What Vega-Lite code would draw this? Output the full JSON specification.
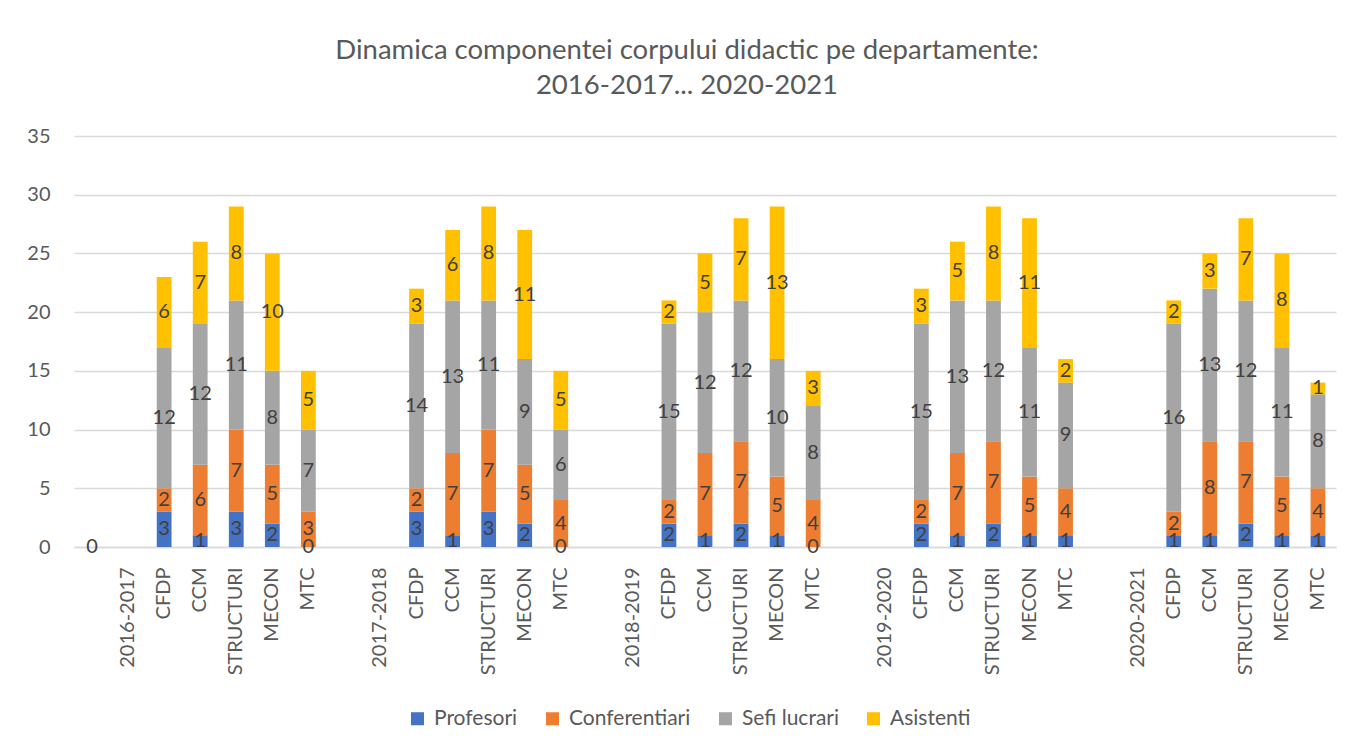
{
  "$schema": "https://vega.github.io/schema/vega-lite/v6.json",
  "autosize": {"type": "none"},
  "width": 1262,
  "height": 411,
  "padding": {"left": 74, "top": 136, "right": 22, "bottom": 195},
  "background": "white",
  "title": {
    "text": ["Dinamica componentei corpului didactic pe departamente:", "2016-2017... 2020-2021"],
    "font": "Lato",
    "fontSize": 27.5,
    "fontWeight": "normal",
    "color": "#595959",
    "anchor": "middle",
    "dx": -18,
    "offset": 27,
    "lineHeight": 35
  },
  "config": {
    "view": {"stroke": null},
    "legend": {
      "orient": "none",
      "legendX": 333,
      "legendY": 572,
      "direction": "horizontal",
      "symbolType": "square",
      "symbolSize": 170,
      "symbolStrokeWidth": 0,
      "labelFont": "Lato",
      "labelFontSize": 21,
      "labelColor": "#595959",
      "columnPadding": 24,
      "labelOffset": 6,
      "padding": 0
    }
  },
  "datasets": {
    "series": [
      {"key": "Profesori", "k": 1},
      {"key": "Conferentiari", "k": 2},
      {"key": "Sefi lucrari", "k": 3},
      {"key": "Asistenti", "k": 4}
    ]
  },
  "data": {
    "values": [
      {"c": "a0|", "Profesori": 0},
      {"c": "a2|CFDP", "Profesori": 3, "Conferentiari": 2, "Sefi lucrari": 12, "Asistenti": 6},
      {"c": "a3|CCM", "Profesori": 1, "Conferentiari": 6, "Sefi lucrari": 12, "Asistenti": 7},
      {"c": "a4|STRUCTURI", "Profesori": 3, "Conferentiari": 7, "Sefi lucrari": 11, "Asistenti": 8},
      {"c": "a5|MECON", "Profesori": 2, "Conferentiari": 5, "Sefi lucrari": 8, "Asistenti": 10},
      {"c": "a6|MTC", "Profesori": 0, "Conferentiari": 3, "Sefi lucrari": 7, "Asistenti": 5},
      {"c": "b2|CFDP", "Profesori": 3, "Conferentiari": 2, "Sefi lucrari": 14, "Asistenti": 3},
      {"c": "b3|CCM", "Profesori": 1, "Conferentiari": 7, "Sefi lucrari": 13, "Asistenti": 6},
      {"c": "b4|STRUCTURI", "Profesori": 3, "Conferentiari": 7, "Sefi lucrari": 11, "Asistenti": 8},
      {"c": "b5|MECON", "Profesori": 2, "Conferentiari": 5, "Sefi lucrari": 9, "Asistenti": 11},
      {"c": "b6|MTC", "Profesori": 0, "Conferentiari": 4, "Sefi lucrari": 6, "Asistenti": 5},
      {"c": "c2|CFDP", "Profesori": 2, "Conferentiari": 2, "Sefi lucrari": 15, "Asistenti": 2},
      {"c": "c3|CCM", "Profesori": 1, "Conferentiari": 7, "Sefi lucrari": 12, "Asistenti": 5},
      {"c": "c4|STRUCTURI", "Profesori": 2, "Conferentiari": 7, "Sefi lucrari": 12, "Asistenti": 7},
      {"c": "c5|MECON", "Profesori": 1, "Conferentiari": 5, "Sefi lucrari": 10, "Asistenti": 13},
      {"c": "c6|MTC", "Profesori": 0, "Conferentiari": 4, "Sefi lucrari": 8, "Asistenti": 3},
      {"c": "d2|CFDP", "Profesori": 2, "Conferentiari": 2, "Sefi lucrari": 15, "Asistenti": 3},
      {"c": "d3|CCM", "Profesori": 1, "Conferentiari": 7, "Sefi lucrari": 13, "Asistenti": 5},
      {"c": "d4|STRUCTURI", "Profesori": 2, "Conferentiari": 7, "Sefi lucrari": 12, "Asistenti": 8},
      {"c": "d5|MECON", "Profesori": 1, "Conferentiari": 5, "Sefi lucrari": 11, "Asistenti": 11},
      {"c": "d6|MTC", "Profesori": 1, "Conferentiari": 4, "Sefi lucrari": 9, "Asistenti": 2},
      {"c": "e2|CFDP", "Profesori": 1, "Conferentiari": 2, "Sefi lucrari": 16, "Asistenti": 2},
      {"c": "e3|CCM", "Profesori": 1, "Conferentiari": 8, "Sefi lucrari": 13, "Asistenti": 3},
      {"c": "e4|STRUCTURI", "Profesori": 2, "Conferentiari": 7, "Sefi lucrari": 12, "Asistenti": 7},
      {"c": "e5|MECON", "Profesori": 1, "Conferentiari": 5, "Sefi lucrari": 11, "Asistenti": 8},
      {"c": "e6|MTC", "Profesori": 1, "Conferentiari": 4, "Sefi lucrari": 8, "Asistenti": 1}
    ]
  },
  "transform": [
    {"fold": ["Profesori", "Conferentiari", "Sefi lucrari", "Asistenti"]},
    {"filter": "isValid(datum.value)"},
    {"lookup": "key", "from": {"data": {"name": "series"}, "key": "key", "fields": ["k"]}}
  ],
  "encoding": {
    "x": {
      "field": "c",
      "type": "nominal",
      "scale": {
        "type": "band",
        "domain": [
          "a0|", "a1|2016-2017", "a2|CFDP", "a3|CCM", "a4|STRUCTURI", "a5|MECON", "a6|MTC",
          "b0|", "b1|2017-2018", "b2|CFDP", "b3|CCM", "b4|STRUCTURI", "b5|MECON", "b6|MTC",
          "c0|", "c1|2018-2019", "c2|CFDP", "c3|CCM", "c4|STRUCTURI", "c5|MECON", "c6|MTC",
          "d0|", "d1|2019-2020", "d2|CFDP", "d3|CCM", "d4|STRUCTURI", "d5|MECON", "d6|MTC",
          "e0|", "e1|2020-2021", "e2|CFDP", "e3|CCM", "e4|STRUCTURI", "e5|MECON", "e6|MTC"
        ],
        "paddingInner": 0.59,
        "paddingOuter": 0.295
      },
      "axis": {
        "title": null,
        "labelExpr": "split(datum.value, '|')[1]",
        "labelAngle": -90,
        "labelFont": "Lato",
        "labelFontSize": 20,
        "labelColor": "#595959",
        "labelPadding": 20,
        "ticks": false,
        "domainColor": "#d9d9d9",
        "domainWidth": 1.5,
        "grid": false
      }
    },
    "y": {
      "field": "value",
      "type": "quantitative",
      "stack": "zero",
      "scale": {"domain": [0, 35]},
      "axis": {
        "title": null,
        "values": [0, 5, 10, 15, 20, 25, 30, 35],
        "domain": false,
        "ticks": false,
        "grid": true,
        "gridColor": "#d9d9d9",
        "gridWidth": 1.5,
        "labelFont": "Lato",
        "labelFontSize": 20,
        "labelColor": "#595959",
        "labelPadding": 24
      }
    },
    "order": {"field": "k", "type": "quantitative"}
  },
  "layer": [
    {
      "mark": {"type": "bar"},
      "encoding": {
        "color": {
          "field": "key",
          "type": "nominal",
          "title": null,
          "scale": {
            "domain": ["Profesori", "Conferentiari", "Sefi lucrari", "Asistenti"],
            "range": ["#4472C4", "#ED7D31", "#A5A5A5", "#FFC000"]
          }
        }
      }
    },
    {
      "mark": {"type": "text", "font": "Lato", "fontSize": 20, "color": "#404040", "align": "center", "baseline": "middle"},
      "encoding": {
        "y": {"field": "value", "type": "quantitative", "stack": "zero", "bandPosition": 0.5},
        "detail": {"field": "key"},
        "text": {"field": "value", "type": "quantitative"}
      }
    }
  ]
}
